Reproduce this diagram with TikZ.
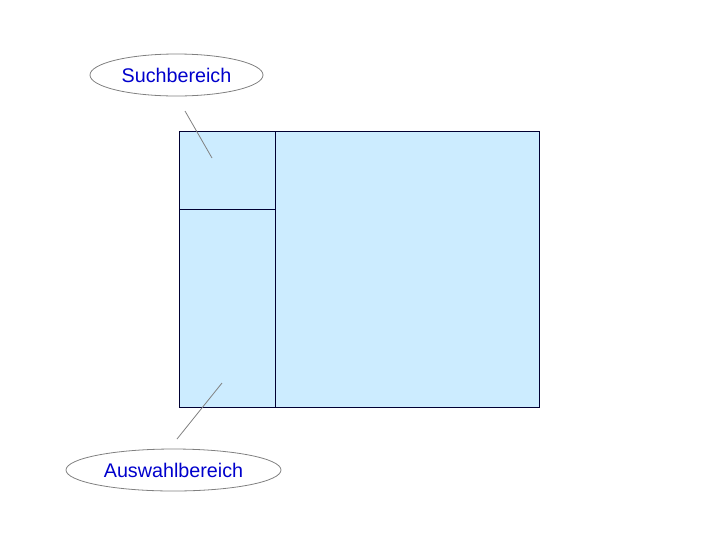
\documentclass[tikz,border=0pt]{standalone}
\usepackage{fontspec}
\setmainfont{Liberation Sans}
\usetikzlibrary{shapes.geometric}
\definecolor{boxfill}{RGB}{204,236,255}
\definecolor{boxline}{RGB}{0,0,51}
\definecolor{labtext}{RGB}{0,0,204}
\definecolor{callline}{RGB}{128,128,128}
\tikzset{
  area/.style={draw=boxline, fill=boxfill, line width=0.75pt},
  callout/.style={ellipse, draw=callline, line width=0.6pt, inner sep=0pt, text=labtext,
     font=\fontsize{14.8pt}{17pt}\selectfont},
  pointer/.style={draw=callline, line width=0.6pt}
}
\begin{document}
\begin{tikzpicture}[x=0.75pt, y=-0.75pt]
\useasboundingbox (0,0) rectangle (720,540);
\draw[area] (179,131) rectangle (539,407);
\draw[area] (179,131) rectangle (275,209);
\draw[area] (179,209) rectangle (275,407);
\node[callout, minimum width=173*0.75pt, minimum height=42*0.75pt] (such) at (176.5,75) {Suchbereich};
\node[callout, minimum width=215*0.75pt, minimum height=42*0.75pt] (ausw) at (173.5,470) {Auswahlbereich};
\coordinate (s1) at (185,111);
\coordinate (s2) at (212,158);
\coordinate (a1) at (177,439);
\coordinate (a2) at (222,383);
\draw[pointer] (s1) -- (s2);
\draw[pointer] (a1) -- (a2);
\end{tikzpicture}
\end{document}
